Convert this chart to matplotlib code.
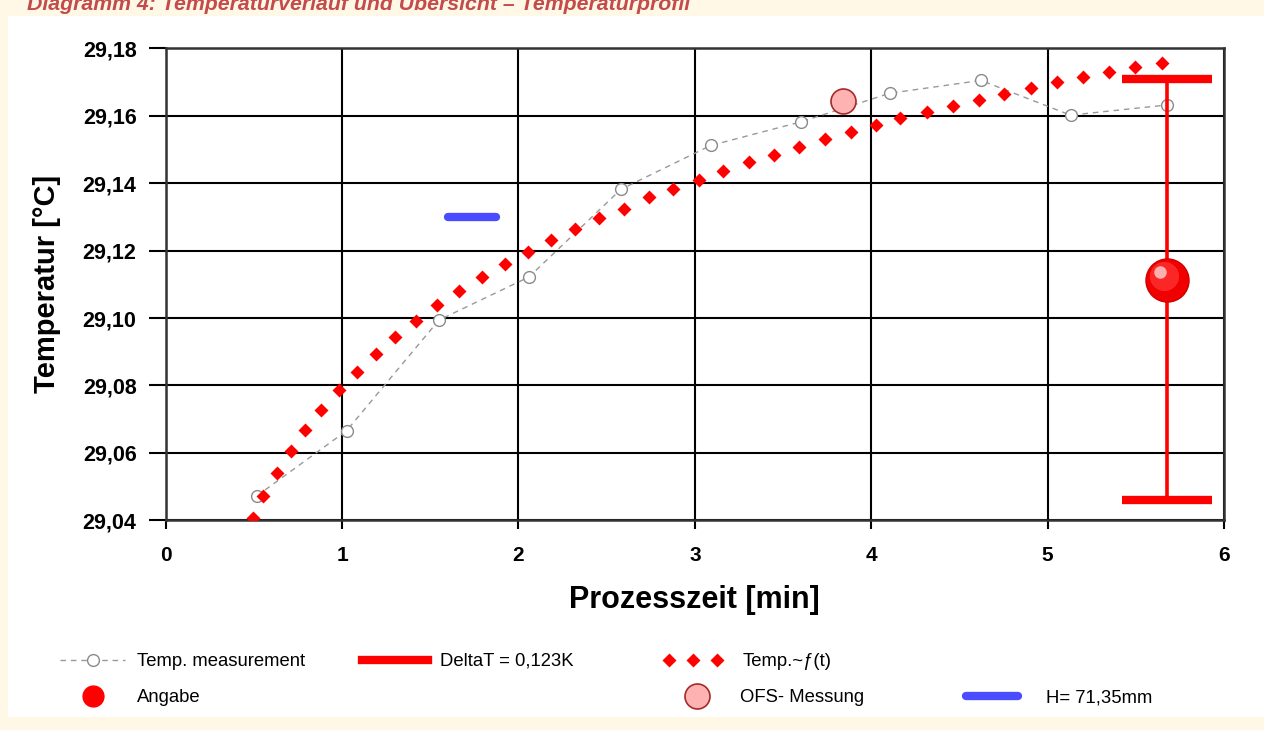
import matplotlib
matplotlib.use('Agg')
import matplotlib.pyplot as plt
import matplotlib.transforms as mtransforms
from matplotlib.lines import Line2D
from matplotlib.patches import Rectangle

plt.rcParams['font.family'] = ['Liberation Sans', 'DejaVu Sans']

W, H = 1264, 730

# Temp. measurement
meas_t = [0.516, 1.026, 1.549, 2.060, 2.581, 3.090, 3.601, 4.106, 4.622, 5.130, 5.675]
meas_T = [29.0472, 29.0666, 29.0994, 29.1122, 29.1382, 29.1512, 29.1582, 29.1667,
          29.1705, 29.1602, 29.1632]

# Temp.~f(t) (fitted curve points)
fit_t = [0.493, 0.553, 0.633, 0.709, 0.791, 0.879, 0.981, 1.084, 1.190, 1.298,
         1.419, 1.538, 1.661, 1.793, 1.923, 2.054, 2.184, 2.320, 2.456, 2.598,
         2.740, 2.876, 3.024, 3.159, 3.307, 3.449, 3.590, 3.738, 3.885, 4.027,
         4.163, 4.316, 4.463, 4.610, 4.752, 4.905, 5.053, 5.200, 5.348, 5.495, 5.648]
fit_T = [29.0406, 29.0472, 29.0539, 29.0605, 29.0668, 29.0727, 29.0787, 29.0839,
         29.0893, 29.0945, 29.0992, 29.1038, 29.1080, 29.1122, 29.1159, 29.1196,
         29.1231, 29.1265, 29.1296, 29.1325, 29.1358, 29.1383, 29.1410, 29.1436,
         29.1462, 29.1484, 29.1507, 29.1530, 29.1553, 29.1572, 29.1593, 29.1611,
         29.1628, 29.1648, 29.1664, 29.1683, 29.1700, 29.1714, 29.1730, 29.1745, 29.1758]

# Angabe with DeltaT range
angabe_t = [5.677]
angabe_T = [29.1113]
delta_low = [29.046]
delta_high = [29.1708]

# OFS- Messung
ofs_t = [3.838]
ofs_T = [29.1643]

# H= 71,35mm
h_t = [1.602, 1.872]
h_T = [29.130, 29.130]

x_ticks = [0, 1, 2, 3, 4, 5, 6]
x_tick_labels = ['0', '1', '2', '3', '4', '5', '6']
y_ticks = [29.04, 29.06, 29.08, 29.10, 29.12, 29.14, 29.16, 29.18]
y_tick_labels = ['29,04', '29,06', '29,08', '29,10', '29,12', '29,14', '29,16', '29,18']

fig = plt.figure(figsize=(W / 100, H / 100), dpi=100, facecolor='#FFF8E6')
fig.patches.append(Rectangle((8 / W, 13 / H), 1 - 8 / W, (717 - 16) / H,
                             transform=fig.transFigure, facecolor='white',
                             edgecolor='none', zorder=-1))

# the title sits partly above the picture's top edge, as in the original
fig.text(27 / W, 1 - 10 / H,
         'Diagramm 4: Temperaturverlauf und Übersicht – Temperaturprofil',
         ha='left', va='baseline', fontsize=15.3, fontweight='bold',
         fontstyle='italic', color='#C44B4B')

ax = fig.add_axes([165.7 / W, 209.7 / H, 1058.3 / W, 471.9 / H])
ax.set_xlim(0, 6)
ax.set_ylim(29.04, 29.18)

meas_line, = ax.plot(meas_t, meas_T, color='#999999', lw=1, dashes=(4, 3.5),
                     marker='o', ms=8.5, mfc='white', mec='#8a8a8a', mew=1,
                     zorder=3)
fit_line, = ax.plot(fit_t, fit_T, ls='none', marker='D', ms=7, color='#FF0000',
                    mec='none', zorder=4)

yerr = [[angabe_T[0] - delta_low[0]], [delta_high[0] - angabe_T[0]]]
ax.errorbar(angabe_t, angabe_T, yerr=yerr, fmt='none', ecolor='#FF0000',
            elinewidth=2.6, capsize=32.5, capthick=6, zorder=5)

# Angabe sphere with a simple highlight
ax.plot(angabe_t, angabe_T, 'o', ms=31, color='#F00000', mec='#D00000', zorder=6)
hl1 = mtransforms.offset_copy(ax.transData, fig=fig, x=-3, y=4, units='dots')
hl2 = mtransforms.offset_copy(ax.transData, fig=fig, x=-7, y=8, units='dots')
ax.plot(angabe_t, angabe_T, 'o', ms=21, color='#FF3030', mec='none', alpha=0.8,
        transform=hl1, zorder=7)
ax.plot(angabe_t, angabe_T, 'o', ms=9, color='#FFC0C0', mec='none', alpha=0.9,
        transform=hl2, zorder=8)

ofs_pt, = ax.plot(ofs_t, ofs_T, 'o', ms=18, mfc='#FFB2B2', mec='#A52A2A', mew=1.2,
                  zorder=6)
h_line, = ax.plot(h_t, h_T, color='#4B4BFF', lw=6, solid_capstyle='round', zorder=5)

ax.set_xticks(x_ticks)
ax.set_xticklabels(x_tick_labels)
ax.set_yticks(y_ticks)
ax.set_yticklabels(y_tick_labels)
ax.grid(True, color='black', lw=1.5)
ax.set_axisbelow(True)
for s in ax.spines.values():
    s.set_color('#333333')
    s.set_linewidth(1.8)
ax.tick_params(axis='y', length=12, width=1.5, direction='out', pad=9,
               labelsize=15.5, colors='black')
ax.tick_params(axis='x', length=6.5, width=1.5, direction='out', pad=12,
               labelsize=15, colors='black')
for lbl in ax.get_xticklabels() + ax.get_yticklabels():
    lbl.set_fontweight('bold')

ax.set_xlabel('Prozesszeit [min]', fontsize=22, fontweight='bold')
ax.xaxis.set_label_coords(0.5, -0.138)
ax.set_ylabel('Temperatur [°C]', fontsize=21, fontweight='bold')
ax.yaxis.label.set_va('center')
ax.yaxis.set_label_coords(-0.112, 0.5)

# legend, one entry at a time to follow the original layout
fs = 13.3
fs_px = fs * 100 / 72


def add_entry(handle, label, x_px, y_px, hl_px, pad_px, numpoints=1):
    fig.legend([handle], [label], loc='center left',
               bbox_to_anchor=(x_px / W, 1 - y_px / H), frameon=False,
               borderpad=0, borderaxespad=0, handlelength=hl_px / fs_px,
               handletextpad=pad_px / fs_px, numpoints=numpoints, fontsize=fs)


delta_proxy = Line2D([], [], color='#FF0000', lw=6)
angabe_proxy = Line2D([], [], ls='none', marker='o', ms=15, color='#FF0000')
ofs_proxy = Line2D([], [], ls='none', marker='o', ms=18, mfc='#FFB2B2',
                   mec='#A52A2A', mew=1.2)
h_proxy = Line2D([], [], color='#4B4BFF', lw=6, solid_capstyle='round')

add_entry(meas_line, 'Temp. measurement', 60, 661.5, 65, 12)
add_entry(delta_proxy, 'DeltaT = 0,123K', 362, 661.5, 66, 12)
add_entry(fit_line, 'Temp.~ƒ(t)', 663, 661.5, 60, 20, numpoints=3)
add_entry(angabe_proxy, 'Angabe', 60, 698, 65, 12)
add_entry(ofs_proxy, 'OFS- Messung', 666, 698, 62, 12)
add_entry(h_proxy, 'H= 71,35mm', 966, 698, 52, 28)

fig.savefig('out.png', dpi=100, facecolor=fig.get_facecolor())
